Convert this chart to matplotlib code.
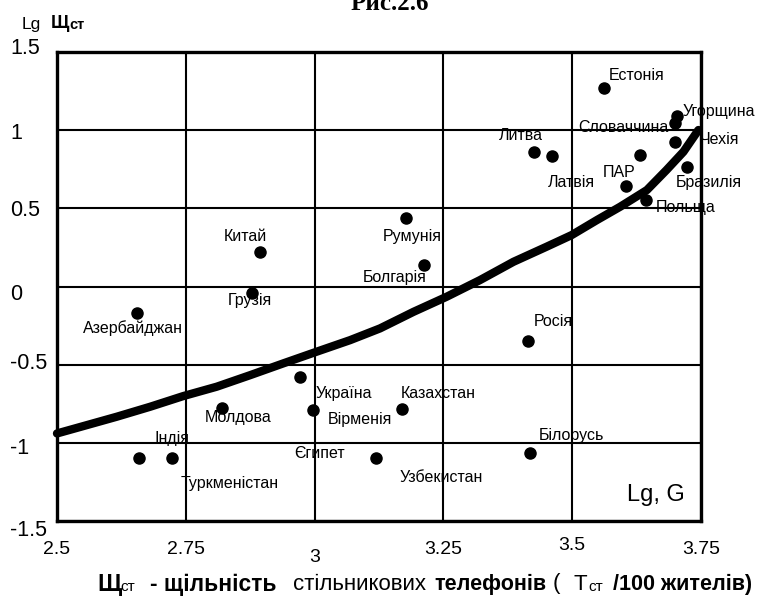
import matplotlib
matplotlib.use("Agg")
import matplotlib.pyplot as plt

plt.rcParams['font.family'] = ['Liberation Sans', 'DejaVu Sans']

# ---- data ----
pt_x = [3.562, 3.703, 3.699, 3.699, 3.426, 3.461, 3.632, 3.723, 3.604, 3.643,
        3.177, 3.212, 2.894, 2.878, 2.655, 2.972, 2.997, 2.820, 2.659, 2.723,
        3.119, 3.170, 3.414, 3.418]
pt_y = [1.270, 1.091, 1.046, 0.924, 0.860, 0.835, 0.841, 0.764, 0.643, 0.553,
        0.439, 0.138, 0.221, -0.041, -0.169, -0.579, -0.790, -0.778, -1.098, -1.098,
        -1.098, -0.784, -0.349, -1.066]

label_names = ["Естонія", "Угорщина", "Словаччина", "Чехія", "Литва", "Латвія",
               "ПАР", "Бразилія", "Польща", "Румунія", "Болгарія", "Китай",
               "Грузія", "Азербайджан", "Україна", "Вірменія", "Молдова", "Індія",
               "Туркменістан", "Єгипет", "Узбекистан", "Казахстан", "Росія", "Білорусь"]
label_point = [0, 1, 2, 3, 4, 5, 8, 7, 9, 10, 11, 12, 13, 14, 15, 16, 17, 19,
               18, 20, 20, 21, 22, 23]

curve_x = [2.5, 2.551, 2.616, 2.681, 2.745, 2.810, 2.875, 2.939, 3.004, 3.069,
           3.127, 3.192, 3.256, 3.321, 3.386, 3.450, 3.499, 3.548, 3.593, 3.645,
           3.683, 3.716, 3.745]
curve_y = [-0.940, -0.893, -0.833, -0.769, -0.701, -0.641, -0.567, -0.492, -0.417,
           -0.343, -0.268, -0.162, -0.066, 0.041, 0.158, 0.254, 0.329, 0.425, 0.510,
           0.617, 0.745, 0.862, 1.001]

x_ticks = [2.5, 2.75, 3.0, 3.25, 3.5, 3.75]
x_tick_labels = ["2.5", "2.75", "3", "3.25", "3.5", "3.75"]
y_ticks = [1.5, 1.0, 0.5, 0.0, -0.5, -1.0, -1.5]
y_tick_labels = ["1.5", "1", "0.5", "0", "-0.5", "-1", "-1.5"]

# ---- style (label offsets in pixels, alignment) ----
label_off = [(5, 12, 'left'), (6, 4, 'left'), (-6, -5, 'right'), (25, 3, 'left'),
             (-13, 17, 'center'), (19, -27, 'center'), (-7, 13, 'center'),
             (-11, -15, 'left'), (10, -7, 'left'), (6, -19, 'center'),
             (-29, -13, 'center'), (-15, 15, 'center'), (-2, -8, 'center'),
             (-4, -15, 'center'), (15, -16, 'left'), (15, -9, 'left'),
             (16, -9, 'center'), (0, 20, 'center'), (91, -25, 'center'),
             (-56, 5, 'center'), (65, -19, 'center'), (36, 16, 'center'),
             (25, 20, 'center'), (41, 18, 'center')]
x_tick_dy = [29, 29, 36, 29, 24, 29]
y_tick_dy = [-3, 3, 2, 8, -1, 6, 10]

W, H = 762, 604
fig = plt.figure(figsize=(W / 100, H / 100), dpi=100)
ax = fig.add_axes([57 / W, 1 - 521 / H, 644 / W, 469 / H])
ax.set_xlim(2.5, 3.75)
ax.set_ylim(-1.5, 1.5)

ax.set_xticks(x_ticks)
ax.set_yticks(y_ticks)
ax.tick_params(length=0, labelbottom=False, labelleft=False)
ax.grid(True, color='black', linewidth=1.5)
ax.set_axisbelow(True)
for s in ax.spines.values():
    s.set_linewidth(2.4)
    s.set_color('black')

ax.plot(curve_x, curve_y, color='black', linewidth=6, solid_capstyle='round',
        solid_joinstyle='round', zorder=3, clip_on=False)
ax.plot(pt_x, pt_y, 'o', color='black', markersize=8, zorder=4, clip_on=False)

for name, idx, (dx, dy, ha) in zip(label_names, label_point, label_off):
    ax.annotate(name, (pt_x[idx], pt_y[idx]), xytext=(dx, dy),
                textcoords='offset pixels', ha=ha, va='center', fontsize=11.5,
                zorder=5, annotation_clip=False)

for t, lab, dy in zip(x_ticks, x_tick_labels, x_tick_dy):
    ax.annotate(lab, (t, 0), xycoords=('data', 'axes fraction'), xytext=(0, -dy),
                textcoords='offset pixels', ha='center', va='center', fontsize=14,
                annotation_clip=False)
for t, lab, dy in zip(y_ticks, y_tick_labels, y_tick_dy):
    ax.annotate(lab, (0, t), xycoords=('axes fraction', 'data'), xytext=(-47, -dy),
                textcoords='offset pixels', ha='left', va='center', fontsize=15.5,
                annotation_clip=False)

ax.text(0.975, 0.055, "Lg, G", transform=ax.transAxes, ha='right', va='center',
        fontsize=17, zorder=5)

def ftext(px, py, s, **kw):
    fig.text(px / W, 1 - py / H, s, **kw)

# title (partly cut at top, as in the reference)
ftext(390, 15, "Рис.2.6", ha='center', va='bottom', fontsize=18, fontweight='bold',
      family=['Liberation Serif', 'DejaVu Serif'])

# y-axis title
ftext(22, 24, "Lg", ha='left', va='center', fontsize=12.5)
ftext(51, 24, "Щ", ha='left', va='center', fontsize=13, fontweight='bold')
ftext(69, 25, "ст", ha='left', va='center', fontsize=10.5, fontweight='bold')

# x-axis title
ftext(97, 584, "Щ", ha='left', va='center', fontsize=17, fontweight='bold')
ftext(120, 587, "ст", ha='left', va='center', fontsize=11)
ftext(150, 584, "- щільність", ha='left', va='center', fontsize=16.5, fontweight='bold')
ftext(293, 584, "стільникових", ha='left', va='center', fontsize=16)
ftext(434, 584, "телефонів", ha='left', va='center', fontsize=15.5, fontweight='bold')
ftext(553, 584, "(", ha='left', va='center', fontsize=16)
ftext(574, 584, "Т", ha='left', va='center', fontsize=16)
ftext(588, 587, "ст", ha='left', va='center', fontsize=11)
ftext(613, 584, "/100 жителів)", ha='left', va='center', fontsize=15.5, fontweight='bold')

fig.savefig("out.png", dpi=100)
